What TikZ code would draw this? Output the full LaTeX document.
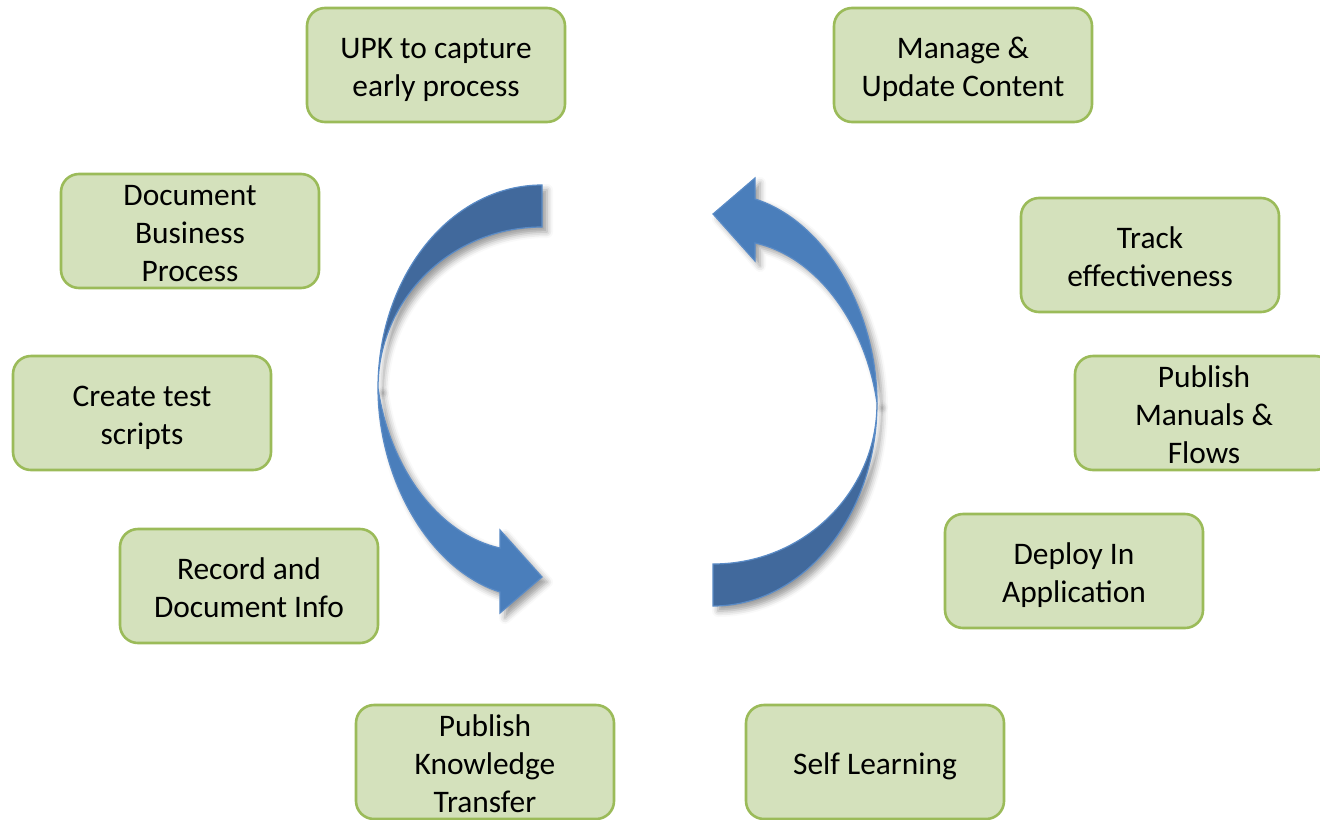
\documentclass[tikz,border=0pt]{standalone}
\usepackage{fontspec}
\setmainfont{Carlito}
\usetikzlibrary{shadows.blur}
\definecolor{boxfill}{HTML}{D4E1BC}
\definecolor{boxline}{HTML}{9BBB59}
\definecolor{arrowdark}{HTML}{41699C}
\definecolor{arrowlight}{HTML}{4A7EBB}
\definecolor{arrowedge}{HTML}{5A8BC6}
\tikzset{
  stepbox/.style={draw=boxline, fill=boxfill, line width=1.3pt, rounded corners=9pt,
    minimum width=129pt, minimum height=57pt, text width=125pt, align=flush center,
    inner xsep=2pt, inner ysep=0pt, font=\fontsize{15.7}{19}\selectfont,
    text height=15.5pt, execute at end node={\rule[-3pt]{0pt}{3pt}}},
  ribbon/.style={draw=arrowedge, line width=0.6pt,
    blur shadow={shadow xshift=2.5pt, shadow yshift=-2.5pt,
      shadow blur radius=3pt, shadow opacity=40}}
}
\begin{document}
\begin{tikzpicture}[x=0.5pt,y=-0.5pt]
  \useasboundingbox (0,0) rectangle (1320,819);
  \draw
    (436,65) node[stepbox] (upk){UPK to capture\\early process}
    (963,65) node[stepbox] (manage){Manage \&\\Update Content}
    (190,231) node[stepbox] (docbus){Document\\Business\\Process}
    (1150,255) node[stepbox] (track){Track\\effectiveness}
    (142,413) node[stepbox] (tests){Create test\\scripts}
    (1204,413) node[stepbox] (manuals){Publish\\Manuals \&\\Flows}
    (249,586) node[stepbox] (record){Record and\\Document Info}
    (1074,571) node[stepbox] (deploy){Deploy In\\Application}
    (485,762) node[stepbox] (knowledge){Publish\\Knowledge\\Transfer}
    (875,762) node[stepbox] (selflearn){Self Learning};
  % left arrow, going down
  \filldraw[ribbon, fill=arrowdark]
    (542,185) .. controls (451,185) and (378,276) .. (378,388)
    .. controls (378,299) and (451,227) .. (542,227) -- cycle;
  \filldraw[ribbon, fill=arrowlight]
    (378,388) .. controls (378,480) and (430,570) .. (500,592)
    -- (500,613) -- (542,577) -- (500,530) -- (500,548)
    .. controls (440,535) and (390,470) .. (378,388) -- cycle;
  % right arrow, going up
  \filldraw[ribbon, fill=arrowdark]
    (713,606) .. controls (804,606) and (877,515) .. (877,403)
    .. controls (877,492) and (804,564) .. (713,564) -- cycle;
  \filldraw[ribbon, fill=arrowlight]
    (877,403) .. controls (877,311) and (825,221) .. (755,199)
    -- (755,178) -- (713,214) -- (755,261) -- (755,243)
    .. controls (815,256) and (865,321) .. (877,403) -- cycle;
\end{tikzpicture}
\end{document}
